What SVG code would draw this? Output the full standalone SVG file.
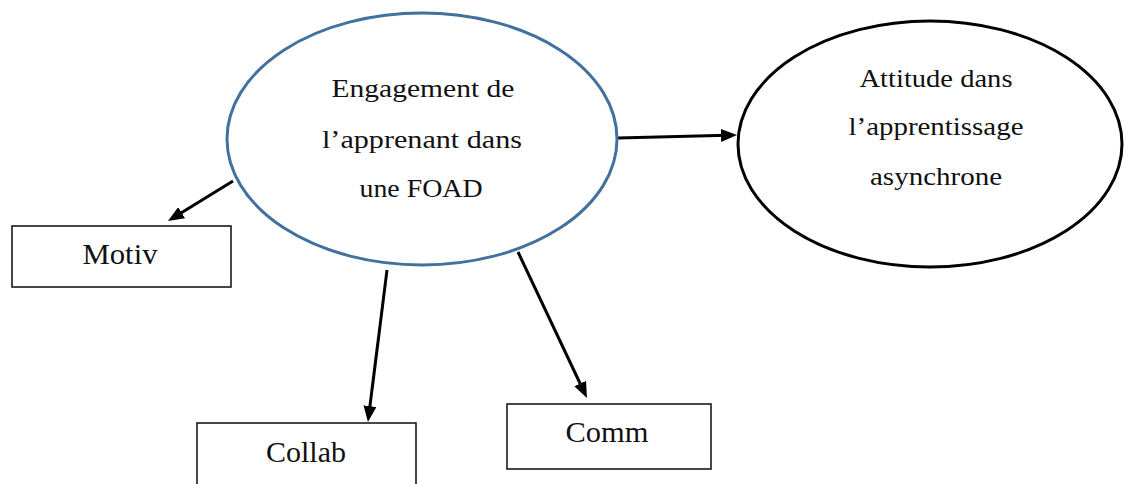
<svg xmlns="http://www.w3.org/2000/svg" width="1125" height="484" viewBox="0 0 1125 484">
  <style>
    .bg { fill: #ffffff; }
    .main { fill: #ffffff; stroke: #41719c; stroke-width: 3; }
    .outcome { fill: #ffffff; stroke: #000000; stroke-width: 3; }
    .box { fill: #ffffff; stroke: #1a1a1a; stroke-width: 1.6; }
    .lbl { font-family: "Liberation Serif", "Times New Roman", serif; fill: #111111; text-anchor: middle; }
    .oval-lbl { font-size: 25px; }
    .box-lbl { font-size: 29px; }
    .link { fill: none; stroke: #000000; stroke-width: 3; marker-end: url(#head); }
  </style>
  <defs>
    <marker id="head" markerUnits="userSpaceOnUse" markerWidth="16" markerHeight="13" refX="6" refY="6.5" orient="auto">
      <path d="M0,0 L16,6.5 L0,13 Z" fill="#000000"/>
    </marker>
  </defs>

  <rect class="bg" x="0" y="0" width="1125" height="484"/>

  <!-- connectors -->
  <g id="connectors">
    <path class="link" d="M618,138 L727,135.3"/>
    <path class="link" d="M233,181 L176.5,215.8"/>
    <path class="link" d="M387,270 L369.2,412.1"/>
    <path class="link" d="M518,252 L582.7,389"/>
  </g>

  <!-- central concept -->
  <g id="engagement">
    <ellipse class="main" cx="422" cy="139" rx="195" ry="126"/>
    <text class="lbl oval-lbl" x="423" y="97" textLength="183" lengthAdjust="spacingAndGlyphs">Engagement de</text>
    <text class="lbl oval-lbl" x="422" y="148" textLength="200" lengthAdjust="spacingAndGlyphs">l’apprenant dans</text>
    <text class="lbl oval-lbl" x="421" y="197" textLength="123" lengthAdjust="spacingAndGlyphs">une FOAD</text>
  </g>

  <!-- outcome -->
  <g id="attitude">
    <ellipse class="outcome" cx="930" cy="144" rx="192" ry="123"/>
    <text class="lbl oval-lbl" x="936" y="87" textLength="153" lengthAdjust="spacingAndGlyphs">Attitude dans</text>
    <text class="lbl oval-lbl" x="936" y="135" textLength="175" lengthAdjust="spacingAndGlyphs">l’apprentissage</text>
    <text class="lbl oval-lbl" x="936" y="185" textLength="132" lengthAdjust="spacingAndGlyphs">asynchrone</text>
  </g>

  <!-- dimensions -->
  <g id="motiv">
    <rect class="box" x="12" y="226" width="219" height="61"/>
    <text class="lbl box-lbl" x="120" y="264" textLength="75" lengthAdjust="spacingAndGlyphs">Motiv</text>
  </g>

  <g id="collab">
    <rect class="box" x="197" y="423" width="219" height="70"/>
    <text class="lbl box-lbl" x="306" y="462" textLength="80" lengthAdjust="spacingAndGlyphs">Collab</text>
  </g>

  <g id="comm">
    <rect class="box" x="507" y="404" width="204" height="65"/>
    <text class="lbl box-lbl" x="607" y="442" textLength="83" lengthAdjust="spacingAndGlyphs">Comm</text>
  </g>
</svg>
